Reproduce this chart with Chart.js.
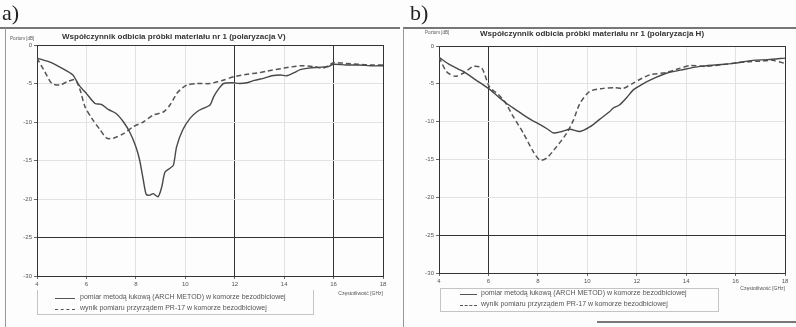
<!DOCTYPE html>
<html>
<head>
<meta charset="utf-8">
<script src="https://cdn.jsdelivr.net/npm/chart.js@4.4.0/dist/chart.umd.min.js"></script>
<style>
  html, body { margin: 0; padding: 0; background: #fdfdfd; }
  body { width: 796px; height: 327px; position: relative; overflow: hidden;
         font-family: "Liberation Sans", Arial, sans-serif; color: #444; }
  canvas { position: absolute; top: 0; }
  .t { position: absolute; white-space: nowrap; }
  .lbl { font-family: "Liberation Serif", "DejaVu Serif", serif; font-size: 22px; color: #222; top: 0; }
  .title { font-weight: bold; font-size: 8px; color: #333; }
  .ytitle { font-size: 4.5px; color: #555; }
  .xtitle { font-size: 5px; color: #555; text-align: right; }
  .frame { position: absolute; background: #777; }
  .legend { position: absolute; border: 1px solid #c4c4c4; }
  .leg { position: absolute; font-size: 7px; color: #555; }
  .sample { position: absolute; height: 0; border-top: 1.3px solid #555; }
  .sample.d { border-top-style: dashed; }
</style>
</head>
<body>
<canvas id="chartA" width="400" height="327" style="left:0"></canvas>
<canvas id="chartB" width="396" height="327" style="left:400px"></canvas>

<!-- frames of the scanned figure -->
<div class="frame" style="left:0;top:27px;width:400px;height:1.5px"></div>
<div class="frame" style="left:5px;top:28px;width:1px;height:299px;background:#999"></div>
<div class="frame" style="left:403px;top:27px;width:393px;height:1.5px"></div>
<div class="frame" style="left:403px;top:28px;width:1px;height:299px;background:#999"></div>
<div class="frame" style="left:597px;top:321px;width:199px;height:1.5px"></div>

<div class="t lbl" style="left:2px">a)</div>
<div class="t lbl" style="left:410px">b)</div>

<div class="t title" style="left:62px;top:32px">Współczynnik odbicia próbki materiału nr 1 (polaryzacja V)</div>
<div class="t title" style="left:480px;top:29px">Współczynnik odbicia próbki materiału nr 1 (polaryzacja H)</div>

<div class="t ytitle" style="left:10px;top:36px">Poziom [dB]</div>
<div class="t ytitle" style="left:425px;top:30px">Poziom [dB]</div>

<div class="t xtitle" style="right:413px;top:290px">Częstotliwość [GHz]</div>
<div class="t xtitle" style="right:11px;top:285px">Częstotliwość [GHz]</div>

<div class="legend" style="left:37px;top:290px;width:275px;height:24px;border-top:none"></div>
<div class="sample" style="left:55px;top:298px;width:20px"></div>
<div class="sample d" style="left:55px;top:309px;width:20px"></div>
<div class="t leg" style="left:80px;top:293px">pomiar metodą łukową (ARCH METOD) w komorze bezodbiciowej</div>
<div class="t leg" style="left:80px;top:304px">wynik pomiaru przyrządem PR-17 w komorze bezodbiciowej</div>

<div class="legend" style="left:440px;top:288px;width:277px;height:22px"></div>
<div class="sample" style="left:460px;top:294px;width:17px"></div>
<div class="sample d" style="left:460px;top:305px;width:17px"></div>
<div class="t leg" style="left:481px;top:289px">pomiar metodą łukową (ARCH METOD) w komorze bezodbiciowej</div>
<div class="t leg" style="left:481px;top:300px">wynik pomiaru przyrządem PR-17 w komorze bezodbiciowej</div>

<script>
// a) polaryzacja V
const freqA_arch = [4, 4.5, 5.0, 5.45, 5.7, 6.0, 6.35, 6.6, 6.9, 7.2, 7.5, 7.75, 8.0, 8.15, 8.3, 8.42, 8.57, 8.7, 8.9, 9.05, 9.18, 9.38, 9.52, 9.65, 9.9, 10.2, 10.5, 10.75, 11.0, 11.15, 11.35, 11.55, 11.9, 12.2, 12.5, 12.8, 13.2, 13.5, 13.85, 14.1, 14.4, 14.65, 15.0, 15.4, 15.8, 16.0, 16.5, 17.0, 17.5, 18];
const levelA_arch = [-1.7, -2.2, -3.0, -3.9, -5.2, -6.3, -7.6, -7.7, -8.4, -8.9, -10.0, -11.3, -13.2, -14.9, -17.5, -19.4, -19.5, -19.3, -19.7, -18.4, -16.5, -16.0, -15.6, -13.2, -11.0, -9.5, -8.6, -8.2, -7.8, -6.7, -5.7, -5.0, -4.9, -5.0, -4.9, -4.6, -4.3, -4.0, -3.9, -4.0, -3.6, -3.2, -3.0, -2.9, -2.8, -2.5, -2.6, -2.6, -2.7, -2.7];
const freqA_pr17 = [4, 4.32, 4.6, 4.93, 5.2, 5.54, 5.74, 5.94, 6.21, 6.55, 6.82, 7.09, 7.5, 7.9, 8.3, 8.7, 9.11, 9.38, 9.65, 9.8, 10.06, 10.47, 11.0, 11.5, 12.0, 12.5, 13.0, 13.3, 14.0, 14.65, 15.2, 15.6, 16.0, 16.5, 17.0, 17.5, 18];
const levelA_pr17 = [-1.7, -3.5, -5.0, -5.2, -4.8, -4.5, -5.8, -8.0, -9.5, -11.0, -12.1, -12.1, -11.5, -10.6, -10.0, -9.1, -8.7, -7.8, -6.3, -5.8, -5.2, -5.0, -5.0, -4.6, -4.1, -3.8, -3.6, -3.4, -3.0, -2.7, -2.8, -3.0, -2.3, -2.4, -2.5, -2.6, -2.6];

// b) polaryzacja H
const freqB_arch = [4, 4.45, 5.0, 5.5, 6.04, 6.4, 6.74, 7.1, 7.41, 7.75, 8.09, 8.4, 8.63, 8.97, 9.3, 9.7, 10.1, 10.5, 10.9, 11.05, 11.3, 11.6, 11.86, 12.2, 12.54, 13.2, 13.9, 14.56, 15.2, 15.9, 16.7, 17.3, 18];
const levelB_arch = [-1.5, -2.5, -3.4, -4.5, -5.7, -6.7, -7.6, -8.4, -9.1, -9.8, -10.4, -11.0, -11.5, -11.3, -11.0, -11.3, -10.7, -9.7, -8.7, -8.2, -7.8, -6.8, -5.8, -5.1, -4.5, -3.6, -3.1, -2.7, -2.5, -2.3, -1.9, -1.8, -1.6];
const freqB_pr17 = [4, 4.31, 4.65, 4.98, 5.39, 5.73, 6.04, 6.4, 6.67, 7.0, 7.41, 7.82, 8.09, 8.36, 8.76, 9.17, 9.44, 9.7, 10.1, 10.65, 11.1, 11.46, 11.86, 12.2, 12.54, 13.2, 13.7, 14.15, 14.8, 15.6, 16.4, 17.0, 17.5, 18];
const levelB_pr17 = [-1.5, -3.4, -4.0, -3.6, -2.7, -2.9, -5.4, -6.4, -7.4, -9.3, -11.5, -14.0, -15.1, -14.8, -13.3, -11.5, -9.8, -7.6, -6.0, -5.6, -5.5, -5.6, -4.9, -4.3, -3.8, -3.5, -3.0, -2.6, -2.7, -2.4, -2.1, -2.0, -1.9, -2.3];

const freqTicks = [4, 6, 8, 10, 12, 14, 16, 18];
const levelTicks = [0, -5, -10, -15, -20, -25, -30];

function points(xs, ys) {
    return xs.map((x, i) => ({x: x, y: ys[i]}))
}

function reflChart(id, arch, pr17, darkX, darkY, box) {
    const data = {
        datasets: [{
                label: 'pomiar metodą łukową (ARCH METOD) w komorze bezodbiciowej',
                data: arch,
                borderColor: '#484848',
                borderWidth: 1.4,
                pointRadius: 0,
                tension: 0.25
            }, {
                label: 'wynik pomiaru przyrządem PR-17 w komorze bezodbiciowej',
                data: pr17,
                borderColor: '#555',
                borderWidth: 1.5,
                borderDash: [5, 3],
                pointRadius: 0,
                tension: 0.25
            }]
    };
    const gridColor = (dark) => (c) => (c.tick && dark.includes(c.tick.value)) ? '#333' : '#e2e2e2';
    const config = {
        type: 'line',
        data: data,
        options: {
            responsive: false,
            animation: false,
            devicePixelRatio: 1,
            layout: {padding: {left: 0, top: box.top, right: box.right, bottom: 0}},
            plugins: {legend: {display: false}, tooltip: {enabled: false}},
            scales: {
                x: {
                    type: 'linear', min: 4, max: 18,
                    afterBuildTicks: (s) => { s.ticks = freqTicks.map(v => ({value: v})) },
                    afterFit: (s) => { s.height = box.xh },
                    grid: {color: gridColor(darkX), tickLength: 3, tickColor: '#666'},
                    border: {color: '#333', width: 1},
                    ticks: {font: {size: 6, family: 'Liberation Sans'}, color: '#555', padding: 2, maxRotation: 0}
                },
                y: {
                    min: -30, max: 0,
                    afterBuildTicks: (s) => { s.ticks = levelTicks.map(v => ({value: v})) },
                    afterFit: (s) => { s.width = box.yw },
                    grid: {color: gridColor(darkY), tickLength: 3, tickColor: '#666'},
                    border: {color: '#333', width: 1},
                    ticks: {font: {size: 6, family: 'Liberation Sans'}, color: '#555', padding: 2}
                }
            }
        }
    };
    let ctx = document.getElementById(id).getContext("2d")
    new Chart(ctx, config)
}

reflChart('chartA', points(freqA_arch, levelA_arch), points(freqA_pr17, levelA_pr17),
    [4, 12, 16, 18], [0, -25, -30], {top: 45, right: 17, xh: 51, yw: 37});
reflChart('chartB', points(freqB_arch, levelB_arch), points(freqB_pr17, levelB_pr17),
    [4, 6, 18], [0, -25, -30], {top: 46, right: 11, xh: 54, yw: 39});
</script>
</body>
</html>
